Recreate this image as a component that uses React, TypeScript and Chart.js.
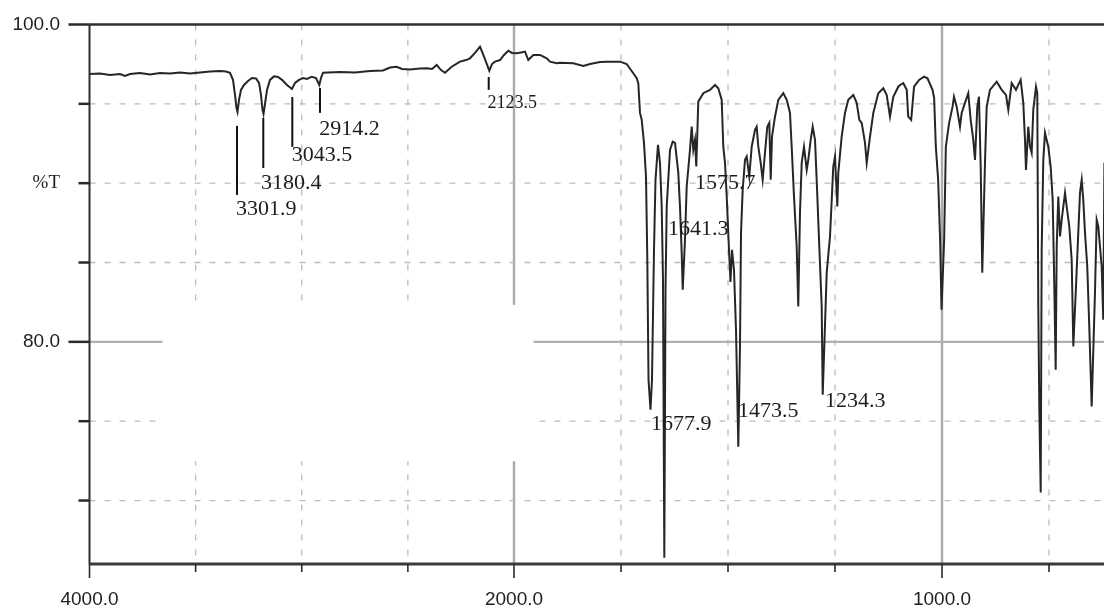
import React, { useEffect, useRef } from 'react';
import { Chart, LinearScale, registerables } from 'chart.js';

// ---------- data (wavenumber in cm-1, transmittance in %T) ----------
const WAVENUMBER_CM1: number[] = [
  4000, 3950.5, 3903.4, 3856.3, 3832.7, 3809.2, 3762.1, 3714.9, 3667.8, 3620.7,
  3573.6, 3526.5, 3479.4, 3432.3, 3385.2, 3356.9, 3338.0, 3323.9, 3314.5, 3307.4,
  3302.7, 3295.6, 3286.2, 3272.1, 3253.2, 3234.4, 3215.5, 3201.4, 3192.0, 3184.9,
  3180.2, 3173.1, 3163.7, 3149.6, 3130.7, 3111.9, 3093.0, 3069.5, 3045.9, 3031.8,
  3012.9, 2994.1, 2975.2, 2953.1, 2932.9, 2917.3, 2909.3, 2899.9, 2819.8, 2749.1,
  2678.4, 2617.2, 2584.2, 2552.7, 2527.7, 2490.0, 2442.9, 2409.9, 2386.3, 2364.2,
  2343.9, 2325.1, 2293.5, 2254.4, 2226.1, 2207.3, 2183.7, 2160.2, 2144.6, 2131.9,
  2116.4, 2103.6, 2089.5, 2065.9, 2047.1, 2026.8, 2009.4, 1993.7, 1983.6, 1974.3,
  1966.6, 1954.9, 1939.3, 1923.6, 1915.9, 1900.2, 1892.5, 1861.5, 1838.1, 1822.4,
  1799.1, 1783.4, 1752.3, 1736.7, 1721.3, 1713.3, 1709.6, 1705.6, 1701.6, 1696.3,
  1691.6, 1688.6, 1685.7, 1681.1, 1677.6, 1672.9, 1669.4, 1663.6, 1658.9, 1654.9,
  1651.9, 1648.8, 1646.0, 1643.2, 1635.5, 1629.2, 1623.8, 1616.1, 1612.2, 1608.2,
  1605.8, 1600.5, 1596.5, 1588.8, 1584.8, 1581.1, 1577.1, 1574.1, 1569.4, 1557.7,
  1542.1, 1530.4, 1522.7, 1514.7, 1511.0, 1507.0, 1503.0, 1497.7, 1494.2, 1490.7,
  1486.0, 1481.3, 1475.9, 1472.0, 1469.6, 1465.7, 1460.3, 1456.3, 1450.3, 1444.6,
  1436.9, 1433.0, 1429.2, 1423.6, 1419.0, 1413.6, 1408.2, 1403.5, 1400.2, 1397.2,
  1390.2, 1382.5, 1370.8, 1362.8, 1355.2, 1351.2, 1345.8, 1339.5, 1335.8, 1331.8,
  1327.8, 1322.4, 1316.1, 1312.4, 1306.8, 1302.1, 1296.7, 1292.8, 1286.7, 1281.1,
  1278.7, 1269.4, 1261.7, 1254.0, 1250.0, 1244.6, 1242.3, 1234.4, 1226.7, 1218.9,
  1207.3, 1199.3, 1193.2, 1187.6, 1179.9, 1175.9, 1168.2, 1160.5, 1148.8, 1137.1,
  1129.2, 1121.5, 1113.8, 1102.1, 1098.1, 1090.4, 1082.4, 1079.0, 1072.0, 1065.3,
  1053.6, 1041.9, 1034.0, 1022.1, 1018.4, 1014.4, 1009.0, 1004.4, 1001.1, 995.0,
  991.0, 983.3, 975.3, 972.0, 965.7, 958.0, 954.0, 946.3, 938.6, 933.0,
  926.9, 922.9, 917.5, 913.6, 909.6, 905.9, 899.6, 895.6, 887.9, 872.2,
  860.5, 850.5, 845.1, 837.2, 827.1, 821.8, 816.2, 810.1, 806.1, 803.8,
  798.4, 794.4, 790.5, 786.7, 780.4, 777.4, 775.0, 772.7, 769.4, 767.1,
  763.3, 759.4, 751.7, 746.1, 741.4, 737.6, 734.4, 732.0, 728.3, 724.3,
  720.4, 712.6, 708.7, 702.6, 697.0, 693.2, 686.9, 681.6, 677.6, 673.6,
  669.9, 665.9, 660.6, 655.9, 650.3, 642.6, 638.6, 634.8, 630.9, 626.9,
  623.2, 620.5,
];

const TRANSMITTANCE_PCT: number[] = [
  96.88, 96.91, 96.82, 96.88, 96.76, 96.88, 96.95, 96.85, 96.95, 96.91,
  96.98, 96.91, 96.98, 97.04, 97.07, 97.04, 96.95, 96.51, 95.56, 94.74,
  94.49, 95.25, 95.88, 96.19, 96.44, 96.63, 96.60, 96.32, 95.56, 94.62,
  94.36, 94.99, 95.88, 96.51, 96.73, 96.69, 96.51, 96.19, 95.94, 96.32,
  96.51, 96.63, 96.57, 96.71, 96.63, 96.19, 96.63, 96.96, 97.01, 96.98,
  97.07, 97.10, 97.29, 97.34, 97.20, 97.17, 97.23, 97.24, 97.20, 97.45,
  97.13, 96.96, 97.34, 97.66, 97.76, 97.87, 98.21, 98.60, 98.08, 97.64,
  97.09, 97.51, 97.66, 97.76, 98.08, 98.35, 98.21, 98.19, 98.24, 98.29,
  97.76, 98.08, 98.08, 97.87, 97.66, 97.56, 97.59, 97.56, 97.39, 97.51,
  97.64, 97.66, 97.66, 97.51, 96.93, 96.61, 96.30, 94.43, 93.99, 92.54,
  90.42, 85.38, 77.61, 75.72, 77.61, 85.80, 90.21, 92.41, 91.28, 88.53,
  83.91, 66.40, 83.28, 88.53, 92.10, 92.62, 92.54, 90.65, 88.53, 85.61,
  83.28, 86.43, 89.79, 92.10, 93.56, 92.10, 92.73, 91.05, 95.14, 95.67,
  95.88, 96.19, 95.98, 95.25, 92.30, 91.28, 89.16, 85.80, 83.78, 85.80,
  84.54, 80.76, 73.39, 79.71, 86.87, 89.58, 91.47, 91.68, 90.42, 92.30,
  93.36, 93.56, 92.30, 91.28, 90.21, 91.91, 93.56, 93.80, 90.21, 92.93,
  94.19, 95.25, 95.67, 95.25, 94.43, 92.30, 89.16, 86.01, 82.23, 88.13,
  91.28, 92.30, 90.84, 91.47, 92.73, 93.56, 92.73, 90.21, 86.01, 82.23,
  76.67, 84.35, 86.64, 91.05, 91.68, 88.53, 90.65, 92.93, 94.43, 95.25,
  95.56, 95.06, 93.99, 93.80, 92.54, 91.28, 92.93, 94.43, 95.67, 95.98,
  95.56, 94.19, 95.45, 96.08, 96.19, 96.30, 95.88, 94.19, 93.99, 96.08,
  96.51, 96.71, 96.61, 95.88, 95.37, 92.30, 90.21, 86.43, 82.02, 86.43,
  92.30, 93.80, 94.82, 95.45, 94.82, 93.56, 94.43, 95.06, 95.67, 93.99,
  92.73, 91.47, 94.82, 95.45, 91.05, 84.35, 91.28, 94.82, 95.88, 96.40,
  95.88, 95.56, 94.62, 96.30, 95.88, 96.19, 96.51, 95.06, 92.73, 90.84,
  93.56, 92.30, 91.91, 94.62, 96.08, 95.67, 82.23, 75.93, 70.50, 85.80,
  91.47, 93.17, 92.30, 91.05, 88.95, 83.49, 78.24, 86.01, 89.16, 86.64,
  87.69, 89.39, 88.53, 87.27, 85.17, 79.71, 83.49, 86.87, 89.39, 90.21,
  88.95, 86.87, 84.75, 80.97, 75.93, 83.09, 87.69, 87.27, 86.01, 84.75,
  81.39, 91.28,
];

// ---------- axes ----------
const X_TICKS: number[] = [4000, 3500, 3000, 2500, 2000, 1750, 1500, 1250, 1000, 750];
const X_TICK_LABELS: Record<number, string> = { 4000: '4000.0', 2000: '2000.0', 1000: '1000.0' };
const X_SOLID_GRID: number[] = [2000, 1000];
const Y_TICKS: number[] = [70, 75, 80, 85, 90, 95, 100];
const Y_TICK_LABELS: Record<number, string> = { 100: '100.0', 90: '%T', 80: '80.0' };
const Y_SOLID_GRID: number[] = [80];
const X_MAX = 4000;
const X_MIN = 621.5;
const Y_MIN = 66;
const Y_MAX = 100;

// ---------- peak annotations ----------
const PEAK_TEXT: string[] = ['3301.9', '3180.4', '3043.5', '2914.2', '2123.5', '1575.7', '1641.3', '1677.9', '1473.5', '1234.3'];
const PEAK_TEXT_W: number[] = [3309.8, 3192.0, 3047.4, 2917.3, 2124.9, 1577.1, 1640.2, 1679.9, 1476.6, 1273.4];
const PEAK_TEXT_T: number[] = [88.38, 90.02, 91.78, 93.39, 95.03, 90.02, 87.12, 74.78, 75.63, 76.23];
const LEADER_W: number[] = [3305.1, 3181.2, 3044.5, 2914.0, 2119.2];
const LEADER_FROM_T: number[] = [93.61, 94.11, 95.43, 96.0, 96.69];
const LEADER_TO_T: number[] = [89.26, 90.96, 92.29, 94.43, 95.88];

// region of the original picture that is blank (grid erased)
const BLANK_W: number[] = [3656.1, 1954.4];
const BLANK_T: number[] = [82.33, 72.48];

// ---------- split wavenumber scale (x2 expansion below 2000 cm-1) ----------
const SCALE_BREAK = 2000;
const LOW_EXPANSION = 2.0165;

class SplitWavenumberScale extends LinearScale {
  static id = 'splitWavenumber';
  static defaults = LinearScale.defaults;
  warp(v: number): number {
    const hi = (this as any).max;
    return v >= SCALE_BREAK ? hi - v : hi - SCALE_BREAK + LOW_EXPANSION * (SCALE_BREAK - v);
  }
  getPixelForValue(value: number): number {
    const total = this.warp((this as any).min);
    return (this as any).getPixelForDecimal(this.warp(value) / total);
  }
  getValueForPixel(pixel: number): number {
    const self = this as any;
    const total = this.warp(self.min);
    const t = self.getDecimalForPixel(pixel) * total;
    const hiSpan = self.max - SCALE_BREAK;
    return t <= hiSpan ? self.max - t : SCALE_BREAK - (t - hiSpan) / LOW_EXPANSION;
  }
}

Chart.register(...registerables, SplitWavenumberScale as any);

const decorPlugin = {
  id: 'irDecor',
  beforeDatasetsDraw(chart: any) {
    const { ctx, chartArea: a } = chart;
    const x = chart.scales.x;
    const y = chart.scales.y;
    ctx.save();
    X_TICKS.forEach((v) => {
      if (v === X_MAX) return;
      const px = x.getPixelForValue(v);
      const solid = X_SOLID_GRID.includes(v);
      ctx.beginPath();
      ctx.setLineDash(solid ? [] : [6, 9]);
      ctx.lineWidth = solid ? 2.4 : 1.3;
      ctx.strokeStyle = solid ? '#aaaaaa' : '#bcbcbc';
      ctx.moveTo(px, a.top);
      ctx.lineTo(px, a.bottom);
      ctx.stroke();
    });
    Y_TICKS.forEach((v) => {
      if (v === Y_MAX) return;
      const py = y.getPixelForValue(v);
      const solid = Y_SOLID_GRID.includes(v);
      ctx.beginPath();
      ctx.setLineDash(solid ? [] : [6, 9]);
      ctx.lineWidth = solid ? 2.4 : 1.3;
      ctx.strokeStyle = solid ? '#b0b0b0' : '#bcbcbc';
      ctx.moveTo(a.left, py);
      ctx.lineTo(a.right, py);
      ctx.stroke();
    });
    ctx.setLineDash([]);
    const bx1 = x.getPixelForValue(BLANK_W[0]);
    const bx2 = x.getPixelForValue(BLANK_W[1]);
    const by1 = y.getPixelForValue(BLANK_T[0]);
    const by2 = y.getPixelForValue(BLANK_T[1]);
    ctx.fillStyle = '#ffffff';
    ctx.fillRect(bx1, by1, bx2 - bx1, by2 - by1);
    ctx.restore();
  },
  afterDatasetsDraw(chart: any) {
    const { ctx, chartArea: a } = chart;
    const x = chart.scales.x;
    const y = chart.scales.y;
    ctx.save();
    ctx.setLineDash([]);
    // frame
    ctx.strokeStyle = '#2f2f2f';
    ctx.lineWidth = 2.5;
    ctx.beginPath();
    ctx.moveTo(a.left, a.top);
    ctx.lineTo(a.right, a.top);
    ctx.stroke();
    ctx.lineWidth = 2;
    ctx.beginPath();
    ctx.moveTo(a.left, a.top);
    ctx.lineTo(a.left, a.bottom);
    ctx.stroke();
    ctx.strokeStyle = '#3a3a3a';
    ctx.lineWidth = 3;
    ctx.beginPath();
    ctx.moveTo(a.left, a.bottom);
    ctx.lineTo(a.right, a.bottom);
    ctx.stroke();
    // y tick marks
    ctx.strokeStyle = '#2a2a2a';
    ctx.lineWidth = 2.5;
    Y_TICKS.forEach((v) => {
      const py = y.getPixelForValue(v);
      const major = v === 100 || v === 80;
      ctx.beginPath();
      ctx.moveTo(a.left - (major ? 21 : 11), py);
      ctx.lineTo(a.left, py);
      ctx.stroke();
    });
    // x tick marks
    ctx.lineWidth = 1.6;
    X_TICKS.forEach((v) => {
      const px = x.getPixelForValue(v);
      const major = X_TICK_LABELS[v] !== undefined;
      ctx.beginPath();
      ctx.moveTo(px, a.bottom);
      ctx.lineTo(px, a.bottom + (major ? 14 : 8));
      ctx.stroke();
    });
    // leader lines
    ctx.strokeStyle = '#111111';
    ctx.lineWidth = 2;
    LEADER_W.forEach((w, i) => {
      const px = x.getPixelForValue(w);
      ctx.beginPath();
      ctx.moveTo(px, y.getPixelForValue(LEADER_FROM_T[i]));
      ctx.lineTo(px, y.getPixelForValue(LEADER_TO_T[i]));
      ctx.stroke();
    });
    // peak labels
    ctx.fillStyle = '#1c1c1c';
    ctx.textAlign = 'left';
    ctx.textBaseline = 'middle';
    PEAK_TEXT.forEach((txt, i) => {
      ctx.font = (txt === '2123.5' ? '18px' : '22px') + ' "Liberation Serif", "Times New Roman", serif';
      ctx.fillText(txt, x.getPixelForValue(PEAK_TEXT_W[i]), y.getPixelForValue(PEAK_TEXT_T[i]));
    });
    ctx.restore();
  },
};

export default function App() {
  const canvasRef = useRef<HTMLCanvasElement | null>(null);

  useEffect(() => {
    const canvas = canvasRef.current;
    if (!canvas) return;
    const points = WAVENUMBER_CM1.map((w, i) => ({ x: w, y: TRANSMITTANCE_PCT[i] }));
    const chart = new Chart(canvas, {
      type: 'line',
      data: {
        datasets: [
          {
            label: '%T',
            data: points,
            borderColor: '#262626',
            borderWidth: 2,
            pointRadius: 0,
            tension: 0,
            fill: false,
          },
        ],
      },
      options: {
        responsive: false,
        animation: false,
        events: [],
        layout: { padding: { top: 24.5, right: 0, bottom: 0, left: 0 } },
        plugins: { legend: { display: false }, tooltip: { enabled: false }, title: { display: false } },
        scales: {
          x: {
            type: 'splitWavenumber' as any,
            min: X_MIN,
            max: X_MAX,
            bounds: 'data',
            grid: { display: false, drawTicks: false },
            border: { display: false },
            afterBuildTicks: (scale: any) => {
              scale.ticks = X_TICKS.map((v) => ({ value: v }));
            },
            afterFit: (scale: any) => {
              scale.height = 46;
              scale.paddingLeft = 0;
              scale.paddingRight = 0;
            },
            ticks: {
              autoSkip: false,
              maxRotation: 0,
              minRotation: 0,
              padding: 24,
              color: '#1e1e1e',
              font: { family: '"Liberation Sans", Arial, sans-serif', size: 19 },
              callback: (value: any) => X_TICK_LABELS[Number(value)] ?? '',
            },
          } as any,
          y: {
            type: 'linear',
            min: Y_MIN,
            max: Y_MAX,
            grid: { display: false, drawTicks: false },
            border: { display: false },
            afterBuildTicks: (scale: any) => {
              scale.ticks = Y_TICKS.map((v) => ({ value: v }));
            },
            afterFit: (scale: any) => {
              scale.width = 89.5;
              scale.paddingTop = 0;
              scale.paddingBottom = 0;
            },
            ticks: {
              autoSkip: false,
              padding: 29.5,
              color: '#1e1e1e',
              font: (ctx: any) =>
                ctx.tick && ctx.tick.value === 90
                  ? { family: '"Liberation Serif", serif', size: 19 }
                  : { family: '"Liberation Sans", Arial, sans-serif', size: 19 },
              callback: (value: any) => Y_TICK_LABELS[Number(value)] ?? '',
            },
          },
        },
      },
      plugins: [decorPlugin],
    } as any);
    return () => chart.destroy();
  }, []);

  return (
    <div style={{ position: 'fixed', left: 0, top: 0, width: 1104, height: 610, background: '#ffffff' }}>
      <canvas ref={canvasRef} width={1104} height={610} style={{ display: 'block' }} />
    </div>
  );
}
